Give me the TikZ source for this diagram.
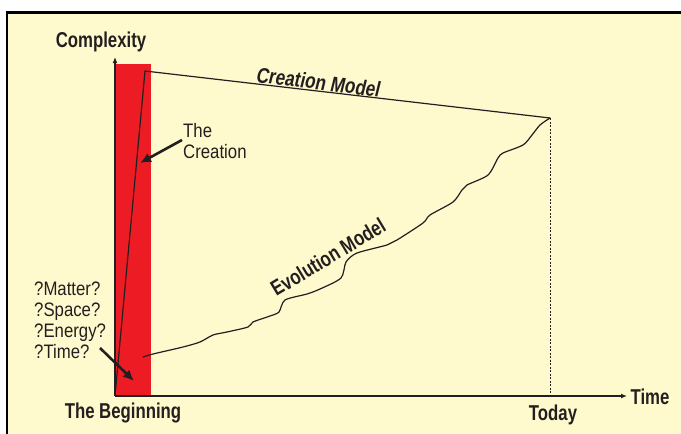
\documentclass[tikz,border=0pt]{standalone}
\usepackage{fontspec}
\usetikzlibrary{arrows.meta}
\newfontfamily\cndb{Liberation Sans}[FakeStretch=0.78]
\newfontfamily\cndr{Liberation Sans}[FakeStretch=0.86]
\newfontfamily\cnds{Liberation Sans}[FakeStretch=0.80,FakeSlant=0.12]
\definecolor{cream}{RGB}{255,250,205}
\definecolor{barred}{RGB}{237,28,36}
\definecolor{ink}{RGB}{35,31,32}
\tikzset{
  boldlbl/.style={text=ink,inner sep=0pt,font=\cndb\bfseries\fontsize{21.5}{24}\selectfont},
  slantlbl/.style={text=ink,inner sep=0pt,font=\cnds\bfseries\fontsize{21.5}{24}\selectfont},
  plainlbl/.style={text=ink,inner sep=0pt,align=left,font=\cndr\fontsize{19.5}{21}\selectfont},
  axisline/.style={draw=ink,line width=1.2pt,-{Latex[length=6pt,width=5pt]}},
  modelline/.style={draw=ink,line width=1.2pt,line join=round},
  pointer/.style={draw=ink,line width=2.6pt,-{Latex[length=11pt,width=10pt]}},
}
\begin{document}
\begin{tikzpicture}[x=1pt,y=-1pt]
\useasboundingbox (0,0) rectangle (681,434);
\fill[white] (0,0) rectangle (681,434);
\fill[cream] (7,12.5) rectangle (681,434);
\draw[black,line width=2.6pt] (7,434) -- (7,12.5) -- (681,12.5);
% red bar
\fill[barred] (115,64) rectangle (151,396);
% axes
\coordinate (O) at (115,396);
\coordinate (ytip) at (115,57);
\coordinate (xtip) at (627,396);
\draw[axisline] (O) -- (ytip);
\draw[axisline] (O) -- (xtip);
% creation model
\coordinate (peak) at (145,71);
\coordinate (today) at (550,118);
\coordinate (todayx) at (550,396);
\draw[modelline] (O) -- (peak) -- (today);
\draw[ink,line width=0.9pt,dash pattern=on 2pt off 1.5pt] (today) -- (todayx);
% evolution model
\coordinate (evo) at (143,357);
\draw[modelline,line cap=round] plot[smooth,tension=0.45] coordinates {
(143,357) (153,354) (183,347) (200,342) (213,335) (227,332) (248,327) (253,322)
(270,316) (279,312) (285,300) (307,294) (320,289) (341,278) (346,262) (357,253)
(387,245) (397,240) (423,223) (430,215) (453,202) (462,190) (467,185) (488,175)
(498,158) (503,153) (523,145) (532,135) (540,125) (550,118)};
% labels
\node[boldlbl] (complexity) at (101,42) {Complexity};
\node[slantlbl,rotate=-7] (cm) at (318,82) {Creation Model};
\node[boldlbl,rotate=31] (em) at (328,257) {Evolution Model};
\node[plainlbl,anchor=west] (creation) at (183,141) {The\\Creation};
\node[plainlbl,anchor=west] (qs) at (34,320) {?Matter?\\?Space?\\?Energy?\\?Time?};
\node[boldlbl] (begin) at (123,413) {The Beginning};
\node[boldlbl] (todaylbl) at (553,415) {Today};
\node[boldlbl] (time) at (650,397) {Time};
% pointers
\coordinate (cstart) at (182,140);
\coordinate (cend) at (140,163);
\draw[pointer] (cstart) -- (cend);
\coordinate (tstart) at (100,348);
\coordinate (tend) at (134,381);
\draw[pointer] (tstart) -- (tend);
\end{tikzpicture}
\end{document}
